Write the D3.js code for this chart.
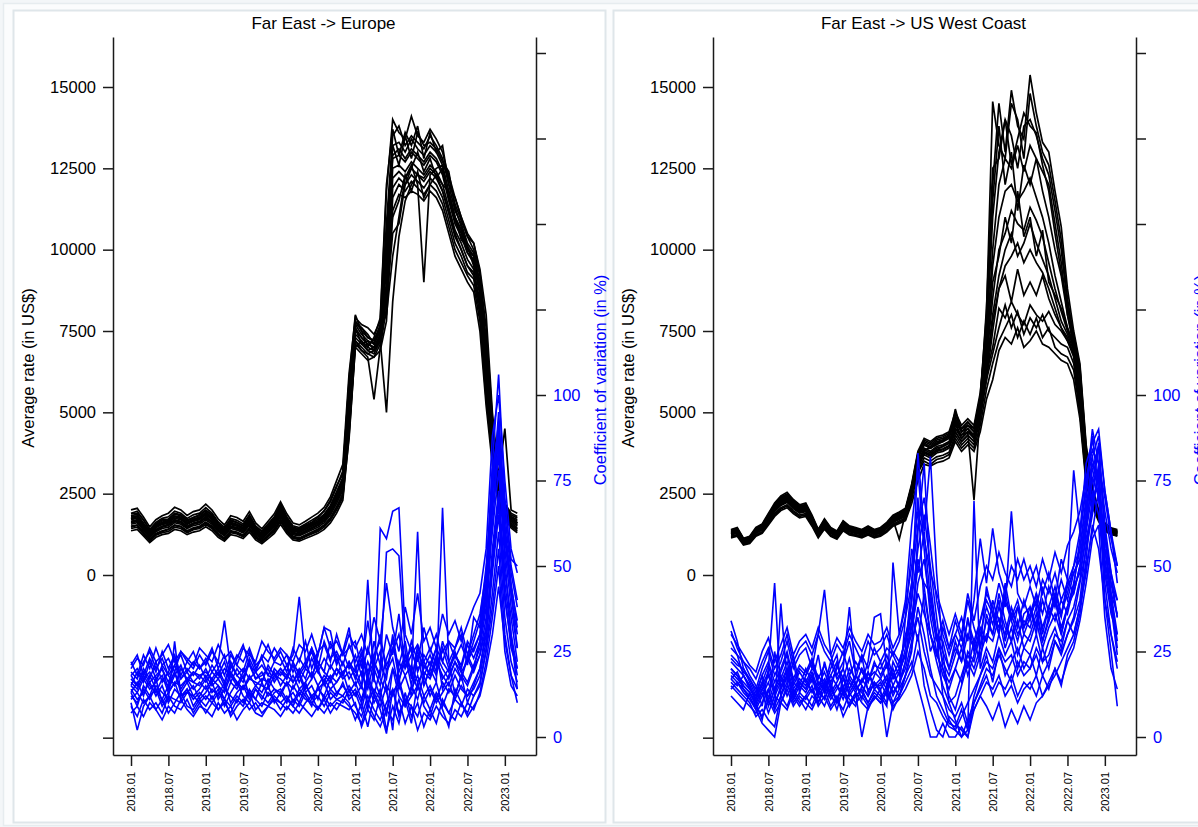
<!DOCTYPE html>
<html><head><meta charset="utf-8">
<script src="https://cdn.jsdelivr.net/npm/d3@7"></script>
<style>
html,body{margin:0;padding:0;background:#fff;}
svg{display:block;font-family:"Liberation Sans",Arial,Helvetica,sans-serif;}
</style></head><body>
<svg id="chart" width="1198" height="827"></svg>
<script>
// Monthly observations, 2018.01 .. 2023.03 (63 months)
const monthLabels = [];
for (let y = 2018; y <= 2023; y++) for (let m = 1; m <= 12; m++) {
  if (y === 2023 && m > 3) break;
  monthLabels.push(y + "." + String(m).padStart(2, "0"));
}
const tickLabels = ["2018.01","2018.07","2019.01","2019.07","2020.01","2020.07","2021.01","2021.07","2022.01","2022.07","2023.01"];
const rateTicks = [-5000,-2500,0,2500,5000,7500,10000,12500,15000];
const cvTicks = [0,25,50,75,100,125,150,175,200];
const panelTitles = ["Far East -> Europe", "Far East -> US West Coast"];

// Average rate (US$) per carrier, Far East -> Europe
const euRate = [
[2000,2050,1780,1480,1700,1820,1900,2080,2000,1830,1950,2000,2180,2000,1720,1540,1820,1770,1650,1950,1600,1420,1650,1880,2250,1880,1600,1540,1650,1780,1900,2080,2400,2900,3400,6200,7900,7700,7600,7400,7800,11800,14000,13600,13400,14100,13500,13300,13700,13400,13000,12200,11400,10900,10400,10200,9300,7200,4600,2800,2200,1900,1800],
[1900,1960,1690,1400,1620,1740,1790,1960,1900,1740,1850,1900,2070,1900,1630,1460,1740,1680,1570,1850,1510,1350,1570,1790,2180,1790,1510,1460,1570,1680,1800,1960,2250,2700,3200,5900,7800,7600,7300,7200,7700,10800,13500,13800,13200,13500,13300,13100,13500,13200,12800,12000,11200,10800,10200,9900,9000,6600,4400,2700,2100,1800,1700],
[1820,1870,1600,1340,1550,1660,1710,1870,1820,1660,1770,1820,1980,1820,1550,1390,1660,1610,1500,1770,1440,1280,1500,1710,2100,1710,1440,1390,1500,1600,1710,1870,2140,2560,3000,5500,7700,7400,7200,7100,7500,10200,13200,13300,13000,13400,13100,12900,13200,13000,12600,11800,11000,10600,10000,9800,8800,6400,4300,2600,2050,1750,1650],
[1750,1800,1550,1290,1490,1600,1650,1800,1750,1600,1700,1750,1900,1750,1490,1340,1600,1550,1440,1700,1390,1240,1440,1650,2010,1650,1390,1340,1440,1550,1650,1800,2060,2470,2900,5300,7600,7300,7100,7000,7400,9900,12900,13100,12800,13100,12900,12700,13000,12800,12400,11600,10900,10500,9900,9700,8700,6300,4200,2550,2000,1700,1600],
[1700,1750,1500,1250,1450,1550,1600,1750,1700,1550,1650,1700,1850,1700,1450,1300,1550,1500,1400,1650,1350,1200,1400,1600,1950,1600,1350,1300,1400,1500,1600,1750,2000,2400,2800,5200,7500,7300,7100,7000,7400,9800,12800,12900,12700,13000,12800,12600,12900,12700,12300,11500,10800,10400,9900,9600,8600,6200,4200,2500,2000,1700,1550],
[1630,1680,1440,1200,1390,1490,1540,1680,1630,1490,1580,1630,1780,1630,1390,1250,1490,1440,1340,1580,1300,1150,1340,1540,1870,1540,1300,1250,1340,1440,1540,1680,1920,2300,2700,5000,7400,7200,7000,6900,7300,9400,12500,12600,12400,12700,12500,12300,12600,12400,12000,11300,10600,10200,9700,9400,8400,6000,4000,2400,1950,1650,1500],
[1560,1610,1380,1150,1330,1430,1470,1610,1560,1430,1520,1560,1700,1560,1330,1200,1430,1380,1290,1520,1240,1100,1290,1470,1790,1470,1240,1200,1290,1380,1470,1610,1840,2200,2600,4800,7300,7100,6900,6800,7200,9000,12200,12400,12200,12500,12300,12100,12400,12200,11800,11100,10400,10000,9500,9300,8200,5800,3900,2300,1900,1600,1450],
[1500,1540,1320,1100,1280,1360,1410,1540,1500,1360,1450,1500,1630,1500,1280,1140,1360,1320,1230,1450,1190,1060,1230,1410,1720,1410,1190,1140,1230,1320,1410,1540,1760,2100,2500,4600,7200,7000,6800,6700,7100,8600,11900,12200,12000,12300,12100,11900,12200,12000,11600,10900,10200,9800,9300,9100,8000,5600,3700,2250,1850,1550,1400],
[1430,1470,1260,1050,1220,1300,1340,1470,1430,1300,1390,1430,1550,1430,1220,1090,1300,1260,1180,1390,1130,1010,1180,1340,1640,1340,1130,1090,1180,1260,1340,1470,1680,2000,2400,4500,7100,6900,6700,5400,7000,8200,11600,12000,11800,12100,11900,11700,12000,11800,11400,10700,10000,9600,9200,8900,7800,5400,3600,2200,1800,1500,1350],
[1360,1400,1200,1000,1160,1240,1280,1400,1360,1240,1320,1360,1480,1360,1160,1040,1240,1200,1120,1320,1080,960,1120,1280,1560,1280,1080,1040,1120,1200,1280,1400,1600,1900,2300,4300,7000,6800,6600,6700,6900,7800,11200,11700,11600,11800,11700,11500,11800,11600,11200,10500,9800,9400,9000,8700,7500,5200,3400,2100,1750,1450,1300],
[1650,1700,1460,1200,1400,1500,1560,1700,1650,1500,1600,1650,1800,1650,1400,1260,1500,1460,1360,1600,1310,1170,1360,1560,1900,1560,1310,1260,1360,1460,1560,1700,1950,2350,2700,4400,7200,6900,6800,6900,7200,5000,8400,10400,11500,12000,12300,12200,12500,12300,12000,11800,11000,10600,10100,9600,9000,7000,4800,2900,2100,1800,1600],
[1800,1820,1560,1300,1520,1620,1680,1820,1780,1620,1720,1780,1930,1780,1510,1350,1620,1560,1460,1720,1410,1250,1460,1670,2040,1670,1410,1350,1460,1560,1670,1830,2080,2500,2950,5600,7800,7500,7300,7200,7600,8000,9800,11000,12200,12600,12000,9000,12300,12500,12600,12300,11600,11000,10500,10200,9400,8000,5000,3000,4500,2000,1900],
[1880,1900,1700,1380,1580,1700,1720,1900,1850,1700,1760,1860,2000,1860,1580,1420,1700,1620,1520,1800,1470,1330,1520,1740,2120,1740,1470,1420,1530,1620,1760,1980,2300,2750,3100,6000,8000,7500,7000,7300,7900,12000,13700,12900,13600,13200,13800,12800,13600,13000,13200,12000,11600,11000,10400,10000,9200,7600,4800,2900,2150,1850,1750],
[1470,1520,1300,1080,1250,1330,1400,1520,1480,1330,1420,1470,1600,1470,1250,1110,1330,1290,1200,1420,1160,1030,1200,1380,1700,1380,1160,1110,1200,1290,1380,1520,1720,2050,2450,4200,7000,7200,6900,7000,7300,8800,11000,11500,12300,11800,12400,11600,12000,12300,11800,11200,10500,10000,9500,9200,8300,6000,3800,2300,1850,1550,1400],
[1600,1650,1420,1180,1370,1470,1520,1650,1600,1470,1560,1610,1750,1610,1370,1230,1470,1420,1330,1560,1280,1140,1330,1520,1850,1520,1280,1230,1330,1420,1520,1660,1900,2280,2650,4900,7600,7100,7200,6900,7300,8400,10500,10800,12000,12500,13000,12400,12800,12200,12500,11600,11000,10300,10100,9500,8800,6800,4500,2600,2050,1700,1550],
[1720,1790,1530,1270,1480,1580,1620,1790,1730,1580,1680,1730,1880,1730,1480,1320,1580,1530,1430,1680,1380,1220,1430,1630,1980,1630,1380,1320,1430,1530,1630,1780,2030,2450,2850,5400,7700,7600,7400,7100,7600,10500,13200,12600,13500,12800,13600,13200,13300,13100,12700,12400,11300,10700,10100,9800,8900,6500,4300,2600,2000,1700,1600]
];

// Coefficient of variation (%) per carrier, Far East -> Europe
const euCv = [
[10,2,9,12,8,11,7,10,13,9,8,11,9,12,8,10,7,11,9,13,8,10,9,12,10,8,11,9,13,10,8,12,9,11,10,14,9,6,12,8,5,10,14,7,11,9,6,12,8,13,10,7,11,9,14,12,16,25,38,55,30,18,14],
[13,16,12,18,14,11,15,19,13,16,12,14,17,13,15,11,16,14,18,12,15,13,17,14,12,16,14,18,13,15,11,17,14,16,19,13,16,11,18,13,9,15,12,17,10,14,18,12,15,11,16,13,18,14,12,16,20,30,55,72,48,35,22],
[15,19,16,22,17,20,14,18,21,16,19,17,20,16,19,15,21,18,16,22,17,19,15,20,18,21,16,20,17,23,19,16,21,18,22,17,20,15,22,17,12,19,23,14,18,21,16,19,17,22,18,15,20,17,23,19,24,35,62,85,58,42,30],
[19,17,22,25,20,23,18,21,24,19,22,20,23,19,22,18,24,21,19,25,20,23,18,22,21,24,19,23,20,26,22,19,28,21,25,20,24,18,26,20,15,23,28,17,22,26,19,24,21,26,22,19,24,20,27,23,28,40,70,95,65,48,38],
[12,10,14,11,15,13,11,28,12,14,11,13,11,14,12,16,10,13,15,11,14,12,10,13,14,11,13,10,15,12,14,16,11,13,12,15,12,15,10,14,11,8,13,16,9,12,15,10,14,10,13,16,11,15,12,14,18,28,48,65,40,28,18],
[22,18,24,20,26,21,23,19,25,22,20,24,21,25,22,34,20,24,22,26,21,23,27,22,25,21,24,41,22,26,20,28,23,25,21,27,22,26,19,24,28,21,25,30,20,24,27,22,26,21,25,28,23,27,22,26,30,45,80,106,70,50,40],
[7,9,6,10,8,5,9,7,11,8,6,9,8,6,10,7,9,5,8,10,7,6,9,8,6,9,7,10,8,6,9,7,10,8,11,9,7,4,10,6,3,8,5,11,4,9,2,7,5,9,6,4,8,6,10,8,13,22,35,50,25,15,12],
[16,14,18,15,13,17,15,19,14,17,16,15,18,15,17,14,19,16,14,18,15,17,16,19,15,18,16,19,14,17,20,15,18,16,19,21,18,14,46,16,61,58,66,67,30,25,20,22,18,24,20,17,22,19,16,21,26,38,66,88,60,44,34],
[14,11,13,16,12,15,10,14,12,13,15,11,13,16,11,14,12,10,15,13,11,16,12,14,13,10,15,12,16,11,14,12,17,13,15,12,14,10,17,12,20,54,55,53,25,18,60,15,20,16,67,22,12,18,15,20,24,32,52,70,45,30,20],
[18,20,17,19,16,21,18,15,20,17,19,18,16,19,17,20,18,15,19,21,17,18,20,16,19,17,21,16,20,18,22,19,17,20,18,22,17,23,8,20,25,14,2,22,18,12,24,15,20,26,14,18,22,17,24,20,28,42,75,92,62,45,32],
[20,23,21,26,22,24,27,22,25,23,21,26,24,22,27,23,25,21,26,24,22,28,25,23,26,24,22,27,25,30,24,32,26,28,24,30,26,30,24,35,28,45,32,25,38,30,42,28,32,26,36,30,34,28,33,38,42,55,88,100,75,55,48],
[11,13,10,12,14,9,12,11,10,13,12,10,12,10,13,11,9,12,10,14,11,9,13,11,10,12,9,13,11,10,12,9,13,11,12,10,5,10,3,12,8,1,14,6,11,4,16,9,6,12,8,3,14,10,7,12,15,26,42,60,35,22,16],
[15,13,17,14,16,18,13,16,15,17,14,16,14,17,15,13,18,16,14,17,16,15,14,18,17,15,18,14,16,19,15,18,16,20,17,19,15,19,14,22,17,13,20,16,24,19,14,21,18,23,17,20,25,19,22,28,34,50,72,90,68,52,50],
[17,15,19,16,18,20,16,21,17,19,16,18,19,17,20,16,22,18,20,17,19,21,18,17,20,18,21,19,22,17,24,32,31,22,25,32,20,24,18,22,30,19,26,21,28,17,25,20,24,19,28,22,26,30,21,35,32,48,60,78,52,30,14],
[13,9,15,12,17,10,13,16,11,14,9,12,15,11,14,9,13,16,12,10,14,11,15,10,13,16,10,14,12,9,15,11,14,12,16,11,13,8,16,10,14,6,20,12,9,15,11,18,12,16,9,14,12,18,10,15,20,32,50,68,42,26,20],
[21,24,18,23,19,25,20,24,18,22,25,20,22,26,20,24,18,23,27,21,19,24,22,26,23,19,26,22,28,20,25,27,22,30,24,26,28,20,34,22,18,30,24,36,20,28,22,32,25,30,22,28,26,32,24,30,36,48,78,90,60,42,26],
[9,6,11,8,10,7,12,9,8,11,7,10,7,10,8,11,6,9,11,8,10,7,9,11,8,11,9,7,10,12,8,11,7,10,9,8,10,3,8,5,12,2,9,4,13,6,10,3,8,4,11,7,5,10,6,9,12,20,30,44,28,18,10],
[18,15,20,17,22,16,19,23,17,20,18,21,17,21,18,22,16,20,17,23,19,16,21,18,20,17,22,18,21,25,19,23,20,24,18,22,19,25,16,28,21,17,30,19,24,15,27,18,22,18,26,20,24,21,28,25,30,44,68,82,55,38,26]
];

// Average rate (US$) per carrier, Far East -> US West Coast
const wcRate = [
[1400,1460,1130,1190,1460,1570,1890,2210,2430,2540,2320,2160,2210,1840,1400,1730,1460,1350,1670,1510,1460,1400,1510,1400,1460,1620,1840,1940,2050,2800,3800,4200,4100,4250,4300,4400,5000,4600,4800,4600,5600,7500,12000,14500,13000,14900,13800,13400,15370,14200,13300,13000,11800,10700,8800,7500,6500,4000,2700,2000,1600,1450,1400],
[1370,1420,1100,1160,1420,1520,1840,2150,2360,2470,2260,2100,2150,1790,1370,1680,1420,1310,1630,1470,1420,1370,1470,1370,1420,1580,1790,1890,2000,2700,3700,4100,4000,4150,4200,4300,4900,4500,4700,4500,5500,8000,14550,13200,12800,14500,14000,12800,14800,13800,13000,12600,11500,10300,8500,7300,6300,3800,2600,1900,1550,1420,1380],
[1330,1380,1070,1120,1380,1480,1790,2090,2300,2400,2190,2040,2090,1730,1330,1630,1380,1280,1580,1430,1380,1330,1430,1330,1380,1530,1730,1840,1940,2650,3600,4000,3900,4050,4100,4200,5100,4400,4600,4400,5300,7200,11000,13000,14000,13500,12500,13800,14000,13500,12800,12300,11200,10000,8300,7200,6200,3600,2500,1850,1500,1380,1320],
[1270,1320,1030,1080,1320,1420,1720,2010,2210,2300,2110,1960,2010,1670,1270,1570,1320,1230,1520,1370,1320,1270,1370,1270,1320,1470,1670,1760,1860,2550,3450,3850,3750,3900,3950,4050,4700,4200,4400,2300,5000,7000,10000,12000,12800,12500,13200,12400,13200,12800,12400,12000,10800,9600,8000,7000,6000,3400,2400,1800,1450,1330,1280],
[1380,1430,1110,1170,1430,1540,1860,2170,2390,2490,2280,2120,2170,1800,1380,1700,1430,1330,1640,1480,1430,1380,1480,1380,1430,1590,1800,1910,2010,2750,3750,4150,4050,4200,4250,4350,4800,4500,4700,4500,5400,6800,9500,11000,11800,12000,11500,11800,12200,11600,11000,10200,9200,8400,7600,7100,6000,3600,2500,1900,1550,1400,1350],
[1300,1350,1050,1100,1350,1450,1750,2050,2250,2350,2150,2000,2050,1700,1300,1600,1350,1250,1550,1400,1350,1300,1400,1300,1350,1500,1700,1100,1900,2600,3500,3900,3800,3950,4000,4100,4600,4300,4500,4300,5200,6600,8500,10000,10500,11200,10800,10600,11300,10900,10400,9600,8800,8100,7500,7000,5600,3300,2400,1800,1500,1350,1300],
[1240,1280,1000,1050,1280,1380,1660,1950,2140,2230,2040,1900,1950,1620,1240,1520,1280,1190,1470,1330,1280,1240,1330,1240,1280,1430,1620,1710,1800,2450,3300,3700,3600,3750,3800,3900,4400,4100,4300,4100,5000,6400,8000,9200,10000,10500,9800,10200,10800,10200,9700,9200,8500,7800,7400,6900,5300,3200,2300,1750,1450,1300,1250],
[1200,1240,970,1010,1240,1330,1610,1890,2070,2160,1980,1840,1890,1560,1200,1470,1240,1150,1430,1290,1240,1200,1290,1200,1240,1380,1560,1660,1750,2400,3200,3600,3500,3630,3680,3770,4300,4000,4200,4000,4800,6000,7500,8800,9500,9800,10200,9600,10000,9600,9300,8800,8200,7600,7300,6800,5000,3000,2200,1700,1400,1250,1200],
[1350,1400,1090,1140,1400,1510,1820,2130,2340,2440,2240,2080,2130,1770,1350,1660,1400,1300,1610,1460,1400,1350,1460,1350,1400,1560,1770,1870,1980,2700,3650,4050,3950,4100,4150,4250,4700,4400,4600,4400,5300,6200,7000,8200,7900,8400,8000,7700,8300,8000,7800,8100,7700,7500,7200,6800,5400,3300,2400,1850,1500,1380,1330],
[1260,1310,1020,1070,1310,1410,1700,1990,2180,2280,2090,1940,1990,1650,1260,1550,1310,1210,1500,1360,1310,1260,1360,1260,1310,1460,1650,1750,1840,2520,3400,3800,3700,3830,3880,3980,4500,4200,4400,4200,5000,6000,6800,7600,8300,7600,8100,7400,7900,7600,8000,7500,7300,7100,7000,6500,5200,3100,2300,1800,1450,1330,1280],
[1170,1220,950,990,1220,1310,1580,1850,2030,2120,1940,1800,1850,1530,1170,1440,1220,1130,1400,1260,1220,1170,1260,1170,1220,1350,1530,1620,1710,2340,3150,3500,3400,3550,3600,3700,4200,3900,4100,3900,4600,5700,6500,7200,7600,8000,7300,7800,7400,7900,7300,7600,7000,6800,6700,6300,5000,2900,2200,1700,1400,1280,1220],
[1140,1190,920,970,1190,1280,1540,1800,1980,2070,1890,1760,1800,1500,1140,1410,1190,1100,1360,1230,1190,1140,1230,1140,1190,1320,1500,1580,1670,2200,2900,3400,3350,3450,3500,3600,4100,3800,4000,3800,4400,5400,6000,6900,7300,7100,7600,7000,7200,7500,7100,7000,6800,6600,6500,6000,4800,2800,2100,1650,1350,1250,1200],
[1320,1390,1060,1130,1370,1470,1770,2090,2290,2380,2180,2030,2080,1720,1320,1620,1370,1270,1570,1420,1370,1320,1420,1320,1370,1520,1720,1820,1920,2500,3300,3850,3900,4000,4100,4300,4800,4400,4500,4200,5400,7800,11500,13800,12000,13000,11200,12600,12000,12800,11800,11000,10000,9200,8000,7200,6200,3700,2500,1900,1500,1380,1320],
[1290,1340,1040,1090,1340,1440,1730,2030,2230,2330,2130,1980,2030,1690,1290,1590,1340,1240,1540,1390,1340,1290,1390,1290,1340,1490,1690,1790,1880,2450,3400,3750,3700,3850,3950,4050,4500,4300,4400,4300,5100,6500,9000,9800,11000,10200,11800,10400,11000,9800,10600,9000,8600,8200,7600,7000,5700,3400,2400,1800,1450,1340,1290],
[1250,1300,1010,1060,1300,1400,1690,1980,2170,2260,2080,1930,1980,1640,1250,1540,1300,1210,1500,1350,1300,1250,1350,1250,1300,1450,1640,1730,1830,2500,3350,3750,3650,3800,3850,3950,4400,4100,4300,4100,4900,6200,7800,8800,9200,8400,9400,8600,9000,8600,9200,8500,8000,7600,7200,6700,5400,3200,2300,1750,1400,1300,1250],
[1360,1400,1080,1150,1400,1500,1810,2120,2330,2420,2220,2070,2120,1760,1350,1660,1400,1300,1600,1450,1400,1350,1450,1350,1400,1550,1760,1860,1960,2700,3600,4000,3900,4050,4150,4250,4700,4500,4600,4500,5300,8200,12500,12800,14000,12600,13400,14200,13800,13600,12600,11800,10500,9300,8200,7400,6400,3900,2600,1950,1550,1420,1350]
];

// Coefficient of variation (%) per carrier, Far East -> US West Coast
const wcCv = [
[34,28,20,16,12,18,10,25,14,20,12,16,14,18,12,22,15,10,17,13,16,11,19,14,16,12,22,18,26,45,70,38,25,30,22,18,24,30,20,28,34,42,38,30,45,35,40,32,38,30,44,36,40,35,46,42,50,62,75,85,60,40,28],
[31,26,22,18,15,9,20,45,12,18,24,15,20,16,24,13,18,22,14,20,17,24,13,18,22,15,20,14,35,55,48,60,40,30,25,20,28,22,35,25,30,38,33,40,28,36,30,34,32,38,28,35,42,30,38,45,55,70,88,72,50,45,40],
[22,20,18,15,10,5,14,8,39,16,22,13,18,22,16,14,20,24,12,18,15,20,16,22,18,22,17,20,24,30,45,52,38,28,34,26,30,26,34,28,22,36,30,42,34,28,38,32,36,42,30,38,34,40,36,44,48,58,66,78,55,42,36],
[18,16,14,12,8,4,2,0,10,15,12,9,12,15,10,16,13,8,14,11,9,15,12,16,13,10,15,12,18,25,60,80,45,30,12,5,2,0,5,10,15,20,18,24,20,16,22,18,20,24,18,22,28,25,30,35,45,55,65,80,45,30,22],
[24,22,19,17,14,20,25,18,22,28,20,24,26,20,30,43,24,18,22,28,19,24,20,26,22,26,24,20,30,36,28,42,30,24,32,26,34,28,40,32,26,44,36,30,42,34,28,36,38,32,40,34,42,36,44,48,52,66,82,88,72,60,45],
[16,14,12,10,6,8,5,3,12,9,14,11,8,12,10,14,9,12,6,10,13,0,9,12,10,14,8,12,16,20,30,15,8,2,0,6,4,2,0,8,12,16,14,18,12,15,10,14,16,12,18,14,20,16,22,26,34,45,58,62,35,20,14],
[20,18,16,14,11,15,19,13,17,22,15,19,16,20,18,15,22,17,20,38,18,16,22,35,36,20,25,22,28,40,55,65,50,35,20,12,8,15,22,18,24,30,28,35,26,32,24,30,28,34,26,32,36,30,38,44,58,75,82,70,58,48,40],
[14,16,13,11,8,12,16,10,14,18,11,15,13,17,12,15,11,14,18,12,15,13,10,14,12,9,51,30,40,62,78,55,35,25,18,14,20,16,25,22,30,28,36,32,40,34,38,30,35,40,32,38,44,36,42,50,60,72,90,80,66,55,48],
[12,10,8,13,9,6,11,7,10,14,9,12,10,8,12,9,14,11,8,13,10,12,9,11,14,0,10,12,18,22,15,8,0,0,4,0,0,3,0,10,14,18,12,16,14,18,12,16,14,18,12,16,20,15,24,28,36,50,60,72,40,25,9],
[17,15,18,14,12,16,9,14,18,12,16,14,17,13,16,14,18,15,13,17,14,16,19,15,17,14,18,15,22,40,83,60,82,48,25,10,5,0,2,69,20,26,22,30,24,28,20,26,24,30,22,28,32,26,34,30,38,52,70,86,62,48,35],
[26,24,22,20,17,22,26,20,24,30,22,26,28,24,30,25,22,27,24,30,26,22,28,24,26,30,24,28,35,45,62,70,56,40,30,24,30,35,28,40,58,45,61,48,42,50,46,52,45,50,42,48,40,52,46,78,60,80,86,90,72,60,50],
[19,17,15,13,10,14,18,12,16,20,14,17,15,19,14,17,13,16,20,14,18,15,12,16,14,17,12,16,20,28,35,25,18,15,12,8,6,10,4,8,12,9,5,10,3,8,4,9,5,10,12,15,18,22,26,30,38,48,62,55,40,30,20],
[23,21,20,17,13,18,22,16,20,25,17,21,19,23,17,21,16,20,25,18,22,19,16,21,20,24,18,22,28,34,50,45,42,30,28,20,26,22,30,26,34,40,36,45,38,66,42,38,44,38,46,42,48,40,45,50,55,68,78,85,60,45,35],
[15,13,11,9,7,10,14,8,12,16,10,13,11,14,9,12,8,11,15,9,13,10,8,12,10,13,9,11,14,18,25,20,12,10,6,3,2,6,10,14,18,22,20,26,22,24,18,22,20,26,22,24,30,28,34,38,46,60,72,65,48,36,30],
[28,24,18,15,11,16,21,14,19,24,16,20,18,22,15,19,14,21,17,23,15,20,17,19,17,21,15,19,24,32,42,36,30,24,20,16,20,26,18,24,32,28,40,34,30,38,32,40,34,42,36,44,38,46,40,48,52,64,80,75,55,42,30],
[20,18,14,11,9,13,7,12,10,8,13,10,12,9,14,11,16,10,13,9,12,14,10,13,11,15,10,14,18,26,38,30,20,12,8,4,3,8,2,12,18,24,16,26,18,22,26,20,24,18,26,20,28,24,30,34,40,56,68,76,50,38,24],
[30,27,24,21,19,25,29,22,27,32,24,28,30,26,32,27,24,29,26,32,28,25,30,27,28,32,26,30,38,50,66,58,48,42,36,30,36,30,42,34,44,50,46,54,48,44,52,46,50,44,52,46,54,48,56,60,66,76,84,80,70,58,50],
[17,19,15,13,10,14,12,9,15,18,13,16,14,18,13,16,12,15,11,16,13,17,14,15,15,18,13,16,22,34,52,44,30,22,15,10,12,18,24,20,26,34,30,38,32,28,34,26,30,36,28,34,40,32,38,42,50,62,76,70,52,40,26]
];

const panels = [
  { title: panelTitles[0], rates: euRate, cvs: euCv, dx: 0 },
  { title: panelTitles[1], rates: wcRate, cvs: wcCv, dx: 600 }
];

const svg = d3.select("#chart");
const FONT = 16.5;

// graph region background and panel frames
svg.append("rect").attr("x", 0).attr("y", 0).attr("width", 1198).attr("height", 827).attr("fill", "#f3f6f8");
svg.append("rect").attr("x", 3.5).attr("y", 3.5).attr("width", 1200).attr("height", 822)
  .attr("fill", "#fbfcfd").attr("stroke", "#e6ecef").attr("stroke-width", 1.5);
panels.forEach(p => {
  svg.append("rect").attr("x", 13.5 + p.dx).attr("y", 10.5).attr("width", p.dx ? 600 : 592).attr("height", 812)
    .attr("fill", "#fff").attr("stroke", "#dfe6ea").attr("stroke-width", 2);
});

// plot geometry (shared by both panels)
const plotTop = 37, plotBottom = 755;
const axisLeftX = 113, axisRightX = 536;

panels.forEach(p => {
  const g = svg.append("g").attr("transform", `translate(${p.dx},0)`);

  const x = d3.scaleLinear().domain([-2.89, 65.0]).range([axisLeftX, axisRightX]);
  // 0 -> 575px, 15000 -> 87px
  const yL = d3.scaleLinear().domain([(575 - plotBottom) / 0.0325333, (575 - plotTop) / 0.0325333]).range([plotBottom, plotTop]);
  // 0 -> 737px, 200 -> 53px
  const yR = d3.scaleLinear().domain([(737 - plotBottom) / 3.42, (737 - plotTop) / 3.42]).range([plotBottom, plotTop]);

  const rateLine = d3.line().x((d, i) => x(i)).y(d => yL(d));
  const cvLine = d3.line().x((d, i) => x(i)).y(d => yR(d));

  g.append("g").selectAll("path").data(p.rates).join("path")
    .attr("d", rateLine).attr("fill", "none").attr("stroke", "#000").attr("stroke-width", 1.7);
  g.append("g").selectAll("path").data(p.cvs).join("path")
    .attr("d", cvLine).attr("fill", "none").attr("stroke", "#0000ff").attr("stroke-width", 1.6);

  // left axis: average rate
  const axL = g.append("g").attr("transform", `translate(${axisLeftX},0)`)
    .call(d3.axisLeft(yL).tickValues(rateTicks).tickSizeInner(10).tickSizeOuter(0).tickPadding(7)
      .tickFormat(d => d >= 0 ? String(d) : ""));
  // right axis: coefficient of variation
  const axR = g.append("g").attr("transform", `translate(${axisRightX},0)`)
    .call(d3.axisRight(yR).tickValues(cvTicks).tickSizeInner(10).tickSizeOuter(0).tickPadding(7)
      .tickFormat(d => d <= 100 ? String(d) : ""));
  // bottom axis: months
  const axB = g.append("g").attr("transform", `translate(0,${plotBottom})`)
    .call(d3.axisBottom(x).tickValues(tickLabels.map(t => monthLabels.indexOf(t))).tickSizeInner(11).tickSizeOuter(0)
      .tickFormat(i => monthLabels[i]));

  [axL, axR, axB].forEach(a => {
    a.select(".domain").attr("stroke", "#1a1a1a").attr("stroke-width", 1.5);
    a.selectAll(".tick line").attr("stroke", "#1a1a1a").attr("stroke-width", 1.5);
    a.attr("font-family", null);
  });
  axL.selectAll("text").attr("font-size", FONT).attr("fill", "#000");
  axR.selectAll("text").attr("font-size", FONT).attr("fill", "#0000ff");
  axB.selectAll("text").attr("font-size", 11).attr("fill", "#000")
    .attr("transform", "rotate(-90)").attr("text-anchor", "end")
    .attr("x", -17).attr("y", 0).attr("dy", "0.35em");

  // titles
  g.append("text").attr("x", 323.5).attr("y", 29).attr("text-anchor", "middle")
    .attr("font-size", 17).attr("fill", "#000").text(p.title);
  g.append("text").attr("transform", "translate(28,368) rotate(-90)").attr("text-anchor", "middle")
    .attr("dominant-baseline", "central").attr("font-size", FONT).attr("fill", "#000")
    .text("Average rate (in US$)");
  g.append("text").attr("transform", "translate(600,380) rotate(-90)").attr("text-anchor", "middle")
    .attr("dominant-baseline", "central").attr("font-size", FONT).attr("fill", "#0000ff")
    .text("Coefficient of variation (in %)");
});
</script>
</body></html>
